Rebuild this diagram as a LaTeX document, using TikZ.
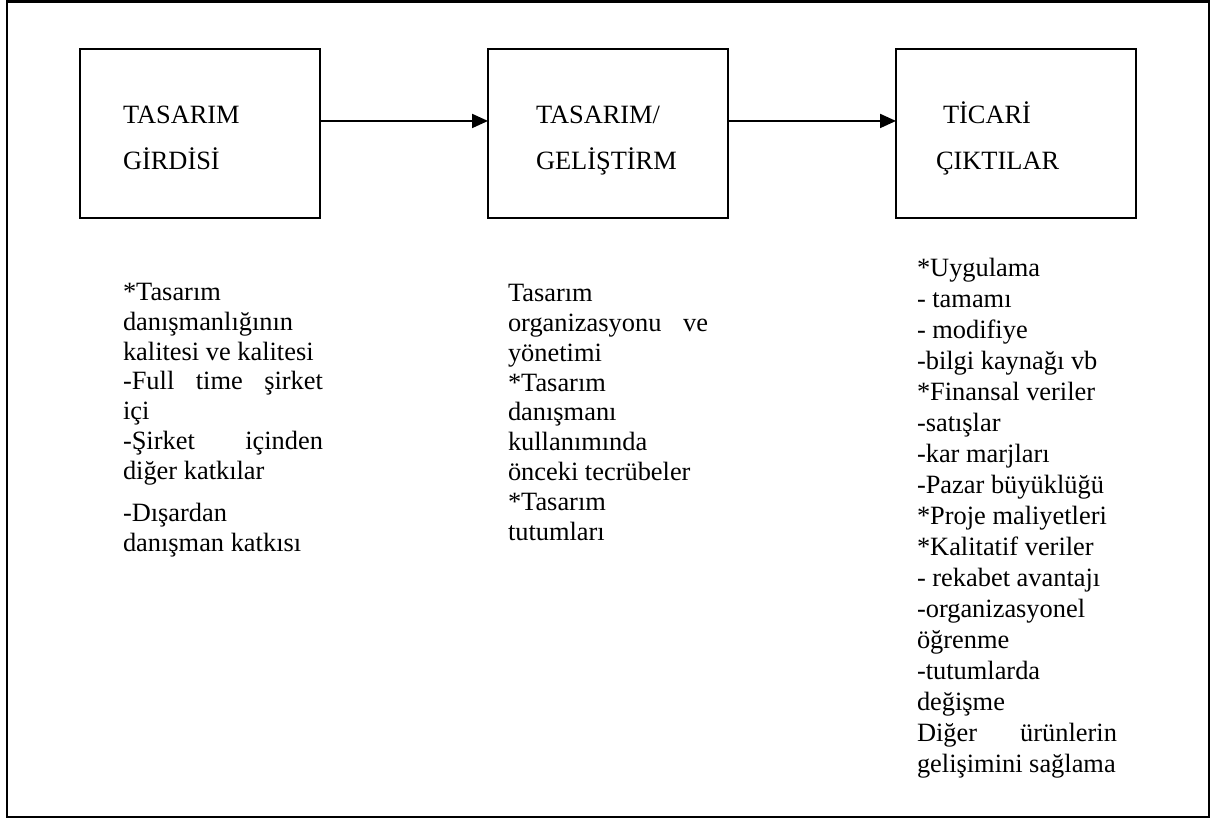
\documentclass[tikz,border=0pt]{standalone}
\usepackage{fontspec}
\setmainfont{Liberation Serif}
\usetikzlibrary{arrows.meta}
% a line stretched to the full column width (justified)
\newcommand\justline[1]{\makebox[150pt][s]{#1}}
\begin{document}
\begin{tikzpicture}[x=0.75pt,y=-0.75pt,
  every node/.style={inner sep=0pt,outer sep=0pt,font=\fontsize{19.8pt}{23pt}\selectfont},
  stagebox/.style={draw,line width=1.5pt,minimum width=180pt,minimum height=126.75pt,anchor=north west},
  flow/.style={-{Triangle[length=12pt,width=10.5pt]},line width=1.5pt},
  txt/.style={anchor=base west}]
\useasboundingbox (0,0) rectangle (1226,820);
% outer frame
\draw[line width=2.2pt] (7,1.5) rectangle (1209,817);

% the three stages
\node[stagebox] (input)  at (80,49)  {};
\node[stagebox] (design) at (488,49) {};
\node[stagebox] (output) at (896,49) {};

\node[txt] (inputA)  at (123,123.5) {TASARIM};
\node[txt] (inputB)  at (123,169)   {GİRDİSİ};
\node[txt] (designA) at (536,123.5) {TASARIM/};
\node[txt] (designB) at (536,169)   {GELİŞTİRM};
\node[txt] (outputA) at (943,123.5) {TİCARİ};
\node[txt] (outputB) at (936,169)   {ÇIKTILAR};

\draw[flow] ([yshift=9.4pt]input.east) -- ([yshift=9.4pt]design.west);
\draw[flow] ([yshift=9.4pt]design.east) -- ([yshift=9.4pt]output.west);

% notes under the input stage
\node[txt] (in1) at (123,300) {*Tasarım};
\node[txt] (in2) at (123,330) {danışmanlığının};
\node[txt] (in3) at (123,360) {kalitesi ve kalitesi};
\node[txt] (in4) at (123,389) {\justline{-Full time şirket}};
\node[txt] (in5) at (123,419) {içi};
\node[txt] (in6) at (123,449) {\justline{-Şirket içinden}};
\node[txt] (in7) at (123,479) {diğer katkılar};
\node[txt] (in8) at (123,521) {-Dışardan};
\node[txt] (in9) at (123,551) {danışman katkısı};

% notes under the design stage
\node[txt] (de1) at (508,301) {Tasarım};
\node[txt] (de2) at (508,331) {\justline{organizasyonu ve}};
\node[txt] (de3) at (508,361) {yönetimi};
\node[txt] (de4) at (508,391) {*Tasarım};
\node[txt] (de5) at (508,420) {danışmanı};
\node[txt] (de6) at (508,450) {kullanımında};
\node[txt] (de7) at (508,480) {önceki tecrübeler};
\node[txt] (de8) at (508,510) {*Tasarım};
\node[txt] (de9) at (508,540) {tutumları};

% notes under the output stage
\foreach \t [count=\i] in {*Uygulama,- tamamı,- modifiye,-bilgi kaynağı vb,
  *Finansal veriler,-satışlar,-kar marjları,-Pazar büyüklüğü,*Proje maliyetleri,
  *Kalitatif veriler,- rekabet avantajı,-organizasyonel,öğrenme,-tutumlarda,
  değişme,{\justline{Diğer ürünlerin}},gelişimini sağlama}
  \node[txt] (out\i) at (917,{276+31*(\i-1)}) {\t};
\end{tikzpicture}
\end{document}
